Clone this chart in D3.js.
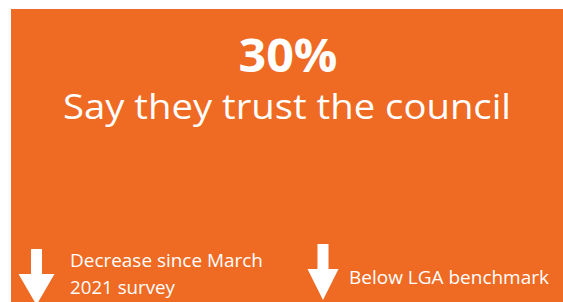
<!DOCTYPE html>
<html>
<head>
<meta charset="utf-8">
<script src="https://cdn.jsdelivr.net/npm/d3@7"></script>
<style>
  html, body { margin: 0; padding: 0; background: #fff; }
  svg { display: block; }
</style>
</head>
<body>
<svg id="chart"></svg>
<script>
// Headline figure and caption
const headlineValue = [30];
const headlineCaption = ['Say they trust the council'];

// Indicator rows along the bottom
const indicatorLabels = [['Decrease since March', '2021 survey'], ['Below LGA benchmark']];
const indicatorDirections = ['down', 'down'];

const width = 563;
const height = 302;
const color = { orange: '#ef6a23', white: '#ffffff' };
const font = '"Open Sans", "Noto Sans", sans-serif';

const svg = d3.select('#chart')
  .attr('width', width)
  .attr('height', height)
  .style('font-family', font);

// Orange panel
svg.append('rect')
  .attr('x', 11)
  .attr('y', 9)
  .attr('width', width - 11)
  .attr('height', height - 9)
  .attr('fill', color.orange);

// Squeeze text to a target width (Calibri is narrower than the fallbacks)
function fit(text, w) {
  const len = text.node().getComputedTextLength();
  if (len > 0) text.attr('textLength', w).attr('lengthAdjust', 'spacingAndGlyphs');
  return text;
}

const fmt = d3.format('.0%');

fit(svg.append('text')
  .attr('x', 288)
  .attr('y', 72)
  .attr('text-anchor', 'middle')
  .attr('font-size', 47)
  .attr('font-weight', 'bold')
  .attr('fill', color.white)
  .text(fmt(headlineValue[0] / 100)), 99);

fit(svg.append('text')
  .attr('x', 287)
  .attr('y', 119)
  .attr('text-anchor', 'middle')
  .attr('font-size', 34.5)
  .attr('font-weight', 500)
  .attr('fill', color.white)
  .text(headlineCaption[0]), 448);

// Indicator positions
const arrowX = d3.scaleOrdinal().domain([0, 1]).range([36.5, 323]);
const labelX = d3.scaleOrdinal().domain([0, 1]).range([70, 349]);
const labelWidths = [[193, 105], [200]];
const arrowTop = [249, 244];
const firstBaseline = [267, 284];

const ind = svg.selectAll('g.indicator')
  .data(indicatorLabels)
  .join('g')
  .attr('class', 'indicator');

ind.append('path')
  .attr('fill', color.white)
  .attr('d', (d, i) => {
    const cx = arrowX(i);
    const top = arrowTop[i];
    const sw = 5.5, hw = i === 0 ? 18 : 15.5;
    const neck = top + 25, tip = neck + 31;
    const p = d3.path();
    if (indicatorDirections[i] === 'down') {
      p.moveTo(cx - sw, top);
      p.lineTo(cx + sw, top);
      p.lineTo(cx + sw, neck);
      p.lineTo(cx + hw, neck);
      p.lineTo(cx, tip);
      p.lineTo(cx - hw, neck);
      p.lineTo(cx - sw, neck);
      p.closePath();
    }
    return p.toString();
  });

ind.each(function(lines, i) {
  const g = d3.select(this);
  lines.forEach((line, j) => {
    fit(g.append('text')
      .attr('x', labelX(i))
      .attr('y', firstBaseline[i] + j * 27)
      .attr('font-size', 18)
      .attr('fill', color.white)
      .text(line), labelWidths[i][j]);
  });
});
</script>
</body>
</html>
